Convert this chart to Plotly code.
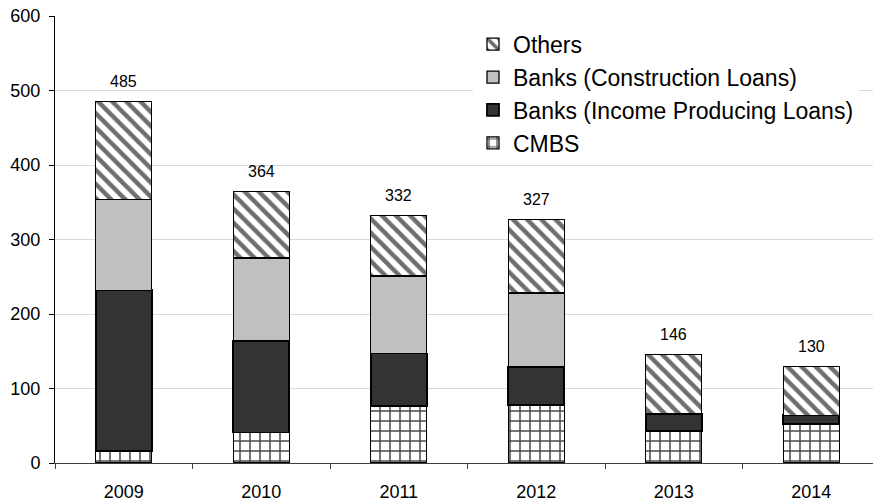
import plotly.graph_objects as go

# Commercial real estate loan maturities by lender type
years = ["2009", "2010", "2011", "2012", "2013", "2014"]
cmbs = [16, 41, 76, 78, 43, 52]
banks_income = [216, 123, 71, 51, 23, 12]
banks_construction = [122, 111, 104, 99, 0, 0]
others = [131, 89, 81, 99, 80, 66]
totals = [a + b + c + d for a, b, c, d in zip(cmbs, banks_income, banks_construction, others)]

FONT = "Liberation Sans, Arial, sans-serif"
outline = dict(color="#000000", width=1.3)

fig = go.Figure()
fig.add_trace(go.Bar(
    x=years, y=cmbs, name="CMBS",
    marker=dict(color="#ffffff", line=outline,
                pattern=dict(shape="+", size=10, solidity=0.28,
                             fgcolor="#4a4a4a", bgcolor="#ffffff", fillmode="replace")),
))
fig.add_trace(go.Bar(
    x=years, y=banks_income, name="Banks (Income Producing Loans)",
    marker=dict(color="#333333", line=dict(color="#000000", width=1.8)),
))
fig.add_trace(go.Bar(
    x=years, y=banks_construction, name="Banks (Construction Loans)",
    marker=dict(color="#c0c0c0", line=outline),
))
fig.add_trace(go.Bar(
    x=years, y=others, name="Others",
    marker=dict(color="#ffffff", line=outline,
                pattern=dict(shape="\\", size=10, solidity=0.45,
                             fgcolor="#6e6e6e", bgcolor="#ffffff", fillmode="replace")),
))

# Total labels above each stack (category index used as x position)
for i, tot in enumerate(totals):
    fig.add_annotation(x=i, y=tot, xref="x", yref="y", text=str(tot), showarrow=False,
                       yanchor="middle", yshift=20,
                       font=dict(family=FONT, size=16, color="#000000"))

fig.update_layout(
    width=873, height=502,
    margin=dict(l=55, r=0, t=16, b=39),
    paper_bgcolor="#ffffff", plot_bgcolor="#ffffff",
    barmode="stack", bargap=0.593,
    font=dict(family=FONT, color="#000000"),
    showlegend=True,
    legend=dict(
        x=0.511, y=0.985, xanchor="left", yanchor="top",
        traceorder="reversed", bgcolor="#ffffff",
        font=dict(family=FONT, size=23, color="#000000"),
        itemwidth=30,
    ),
    xaxis=dict(
        type="category", range=[-0.5, 5.449],
        showline=True, linecolor="#404040", linewidth=1,
        ticks="outside", ticklen=5, tickcolor="#404040", tickson="boundaries",
        tickfont=dict(family=FONT, size=18, color="#000000"),
        ticklabelstandoff=12,
        showgrid=False, fixedrange=True,
    ),
    yaxis=dict(
        range=[0, 600], dtick=100,
        showline=True, linecolor="#000000", linewidth=1,
        ticks="outside", ticklen=5, tickcolor="#000000",
        gridcolor="#d9d9d9", gridwidth=1, zeroline=False,
        tickfont=dict(family=FONT, size=18, color="#000000"),
        ticklabelstandoff=5,
    ),
)

fig.write_html("out.html")
